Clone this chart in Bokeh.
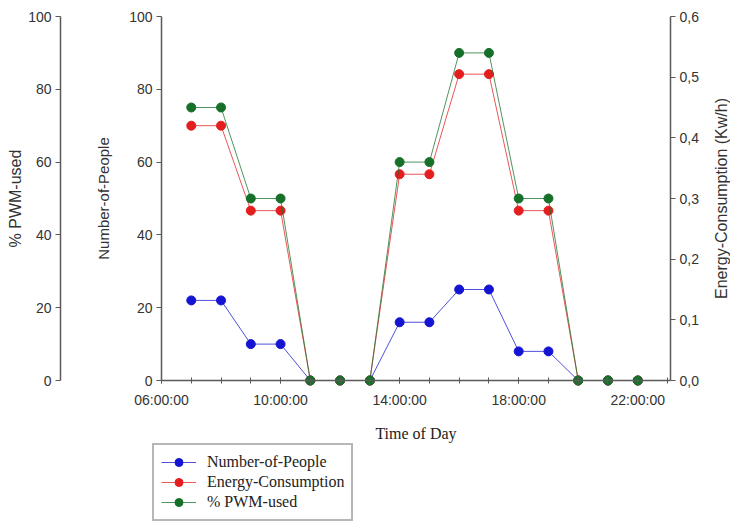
import math
from bokeh.plotting import figure
from bokeh.models import Range1d, LinearAxis, FixedTicker, Legend, LegendItem, Label
from bokeh.embed import file_html
from bokeh.resources import INLINE

# ---- data ----
times = ["07:00:00", "08:00:00", "09:00:00", "10:00:00", "11:00:00", "12:00:00",
         "13:00:00", "14:00:00", "15:00:00", "16:00:00", "17:00:00", "18:00:00",
         "19:00:00", "20:00:00", "21:00:00", "22:00:00"]
people = [22, 22, 10, 10, 0, 0, 0, 16, 16, 25, 25, 8, 8, 0, 0, 0]
energy = [0.42, 0.42, 0.28, 0.28, 0.0, 0.0, 0.0, 0.34, 0.34, 0.505, 0.505, 0.28, 0.28, 0.0, 0.0, 0.0]
pwm = [75, 75, 50, 50, 0, 0, 0, 60, 60, 90, 90, 50, 50, 0, 0, 0]

x_ticks = [6, 10, 14, 18, 22]
x_tick_labels = ["06:00:00", "10:00:00", "14:00:00", "18:00:00", "22:00:00"]
x_minor_ticks = list(range(6, 24))
people_ticks = [0, 20, 40, 60, 80, 100]
pwm_ticks = [0, 20, 40, 60, 80, 100]
energy_ticks = [0.0, 0.1, 0.2, 0.3, 0.4, 0.5, 0.6]
energy_tick_labels = ["0,0", "0,1", "0,2", "0,3", "0,4", "0,5", "0,6"]

hours = [int(t[:2]) + int(t[3:5]) / 60 for t in times]

# ---- layout (screen placement of the axes inside one full-canvas frame) ----
W, H = 730, 525
X0, X1 = 6.0, 23.1            # time-axis extent (hours)
PX_X0, PX_X1 = 161, 670       # pixel columns of the time-axis ends
PX_TOP, PX_ZERO = 16, 380     # pixel rows of value 100 and value 0
PX_PWM = 60                   # pixel column of the outer % axis
xs = (PX_X1 - PX_X0) / (X1 - X0)
ys = (PX_ZERO - PX_TOP) / 100.0
x_start = X0 - PX_X0 / xs
x_end = X1 + (W - PX_X1) / xs
y_start = -(H - PX_ZERO) / ys
y_end = 100 + PX_TOP / ys
pwm_loc = x_start + PX_PWM / xs
e_scale = 0.6 / 100

BLUE, RED, GREEN = "#1414d2", "#e41e1e", "#16702a"
AX = "#5a5a5a"
TXT = "#333333"
SANS = "Liberation Sans"
SERIF = "Liberation Serif"

p = figure(width=W, height=H, output_backend="svg", toolbar_location=None,
           x_range=Range1d(x_start, x_end), y_range=Range1d(y_start, y_end),
           x_axis_location=None, y_axis_location=None, min_border=0)
p.extra_y_ranges = {"pwm": Range1d(y_start, y_end),
                    "energy": Range1d(y_start * e_scale, y_end * e_scale)}
p.outline_line_color = None
p.grid.visible = False
p.background_fill_color = "white"

# x axis (fixed at value 0)
xa = LinearAxis(ticker=FixedTicker(ticks=x_ticks, minor_ticks=x_minor_ticks),
                fixed_location=0, bounds=(X0, X1))
xa.major_label_overrides = dict(zip(x_ticks, x_tick_labels))
xa.major_label_text_font = SANS
xa.major_label_text_font_size = "14px"
xa.major_label_text_color = TXT
xa.major_label_standoff = 8
xa.axis_line_color = AX
xa.axis_line_width = 1.5
xa.major_tick_line_color = AX
xa.minor_tick_line_color = AX
xa.major_tick_in = 3
xa.major_tick_out = 3
xa.minor_tick_in = 3
xa.minor_tick_out = 3
p.add_layout(xa, "below")


def style_y(ax):
    ax.axis_line_color = AX
    ax.axis_line_width = 1.5
    ax.major_tick_line_color = AX
    ax.major_tick_in = 0
    ax.major_tick_out = 5
    ax.minor_tick_line_color = None
    ax.major_label_text_font = SANS
    ax.major_label_text_font_size = "14px"
    ax.major_label_text_color = TXT
    ax.major_label_standoff = 4


pa = LinearAxis(y_range_name="pwm", ticker=FixedTicker(ticks=pwm_ticks),
                fixed_location=pwm_loc, bounds=(0, 100))
style_y(pa)
p.add_layout(pa, "left")

na = LinearAxis(ticker=FixedTicker(ticks=people_ticks), fixed_location=X0, bounds=(0, 100))
style_y(na)
p.add_layout(na, "left")

ea = LinearAxis(y_range_name="energy", ticker=FixedTicker(ticks=energy_ticks),
                fixed_location=X1, bounds=(0, 0.6))
ea.major_label_overrides = dict(zip(energy_ticks, energy_tick_labels))
style_y(ea)
p.add_layout(ea, "right")


# axis titles
def title(text, size="16px", **kw):
    lab = Label(text=text, text_font=SANS, text_font_size=size, text_color=TXT,
                text_align="center", text_baseline="middle", **kw)
    p.add_layout(lab)
    return lab


title("% PWM-used", x=15, x_units="screen", y=50, y_range_name="pwm", angle=math.pi / 2)
title("Number-of-People", size="15px", x=103, x_units="screen", y=50, angle=math.pi / 2)
title("Energy-Consumption (Kw/h)", x=721, x_units="screen", y=0.3, y_range_name="energy",
      angle=math.pi / 2)
tl = Label(text="Time of Day", x=(X0 + X1) / 2, y=H - 433, y_units="screen",
           text_font=SERIF, text_font_size="16px", text_color="#222222",
           text_align="center", text_baseline="middle")
p.add_layout(tl)

# series
bl = p.line(hours, people, line_color=BLUE, line_width=1, line_alpha=0.75)
bs = p.scatter(hours, people, size=9, fill_color=BLUE, line_color=BLUE)
rl = p.line(hours, energy, line_color=RED, line_width=1, line_alpha=0.75, y_range_name="energy")
rs = p.scatter(hours, energy, size=9, fill_color=RED, line_color=RED, y_range_name="energy")
gl = p.line(hours, pwm, line_color=GREEN, line_width=1, line_alpha=0.75, y_range_name="pwm")
gs = p.scatter(hours, pwm, size=9, fill_color=GREEN, line_color=GREEN, y_range_name="pwm")

legend = Legend(items=[LegendItem(label="Number-of-People", renderers=[bl, bs]),
                       LegendItem(label="Energy-Consumption", renderers=[rl, rs]),
                       LegendItem(label="% PWM-used", renderers=[gl, gs])],
                location=(152, 4))
legend.border_line_color = "#707070"
legend.border_line_width = 2
legend.padding = 7
legend.margin = 0
legend.spacing = 0
legend.label_height = 20
legend.glyph_height = 20
legend.glyph_width = 35
legend.label_standoff = 11
legend.label_text_font = SERIF
legend.label_text_font_size = "16px"
legend.label_text_color = "#222222"
legend.background_fill_color = "white"
legend.background_fill_alpha = 1
p.add_layout(legend, "center")

open("out.html", "w").write(file_html(p, INLINE))
